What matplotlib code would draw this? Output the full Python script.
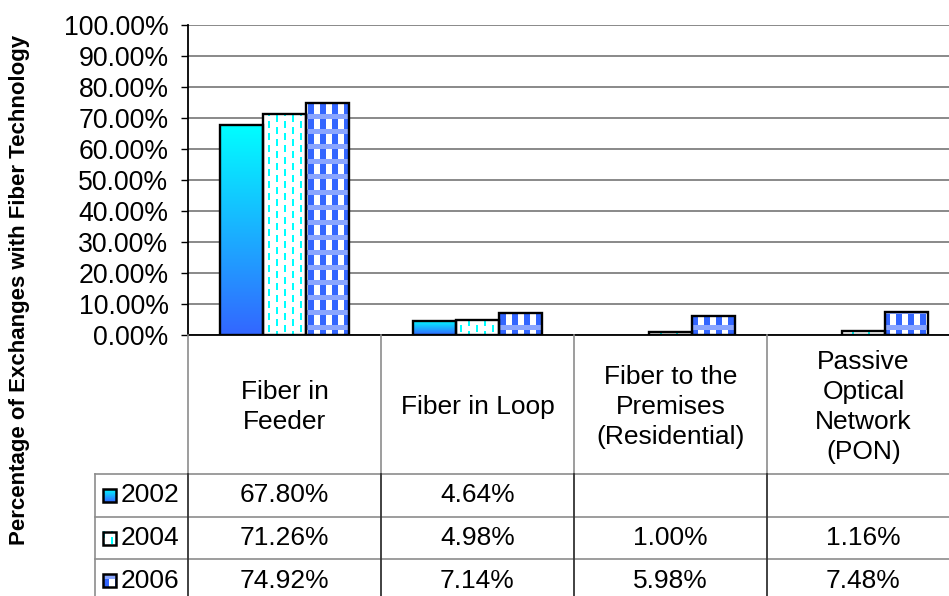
import numpy as np
import matplotlib
matplotlib.use("Agg")
import matplotlib.pyplot as plt
from matplotlib.patches import Rectangle
from matplotlib.colors import to_rgb

# ---- data ----
categories = ["Fiber in\nFeeder", "Fiber in Loop",
              "Fiber to the\nPremises\n(Residential)",
              "Passive\nOptical\nNetwork\n(PON)"]
years = ["2002", "2004", "2006"]
vals_2002 = [67.80, 4.64, None, None]
vals_2004 = [71.26, 4.98, 1.00, 1.16]
vals_2006 = [74.92, 7.14, 5.98, 7.48]
y_ticks = [0, 10, 20, 30, 40, 50, 60, 70, 80, 90, 100]
y_label = "Percentage of Exchanges with Fiber Technology"

series = [vals_2002, vals_2004, vals_2006]

plt.rcParams['font.family'] = ['Liberation Sans', 'DejaVu Sans']

W, H = 949, 596
fig = plt.figure(figsize=(W / 100, H / 100), dpi=100)

# layout in pixels
X0 = 188          # left edge of plot area
CAT_W = 193       # width of one category column
Y_TOP = 25        # pixel row of 100 %
Y_ZERO = 335      # pixel row of 0 %
TB = 602          # bottom of the data table
n = len(categories)
FS_TICK = 19.2
FS_TABLE = 19

ax = fig.add_axes([X0 / W, 1 - Y_ZERO / H, n * CAT_W / W, (Y_ZERO - Y_TOP) / H])
ax.set_xlim(0, n)
ax.set_ylim(0, 100)

CYAN = np.array(to_rgb('#00ffff'))
BLUE = np.array(to_rgb('#3366ff'))
LIGHT = np.array(to_rgb('#8aa6ff'))


def plaid(h, w):
    img = np.ones((h, w, 3))
    yy, xx = np.mgrid[0:h, 0:w]
    band = (yy % 15) < 5
    col = (xx % 12) < 6
    img[band] = LIGHT
    img[(~band) & col] = BLUE
    return img


def dashes(h, w):
    img = np.ones((h, w, 3))
    yy, xx = np.mgrid[0:h, 0:w]
    a = ((xx % 16) < 2) & ((yy % 12) < 7)
    b = (((xx - 8) % 16) < 2) & (((yy + 6) % 12) < 7)
    img[a | b] = CYAN
    return img


def gradient(nrows=256):
    t = np.linspace(0, 1, nrows)[:, None, None]
    return CYAN * (1 - t) + BLUE * t


PH, PW = Y_ZERO - Y_TOP, n * CAT_W
pattern_imgs = {1: dashes(PH, PW), 2: plaid(PH, PW)}


def fill_bar(axis, patch, kind):
    if kind == 0:
        x0, y0 = patch.get_x(), patch.get_y()
        w, h = patch.get_width(), patch.get_height()
        im = axis.imshow(gradient(), extent=(x0, x0 + w, y0, y0 + h),
                         origin='upper', aspect='auto', interpolation='bilinear',
                         zorder=3)
    else:
        im = axis.imshow(pattern_imgs[kind], extent=(0, n, 0, 100),
                         origin='upper', aspect='auto', interpolation='nearest',
                         zorder=3)
    im.set_clip_path(patch)


BW = 43 / CAT_W
for j, vals in enumerate(series):
    idx = [i for i, v in enumerate(vals) if v is not None]
    xs = [i + 0.5 + (j - 1) * BW for i in idx]
    hs = [vals[i] for i in idx]
    bars = ax.bar(xs, hs, width=BW, facecolor='white', edgecolor='none', zorder=2)
    for b in bars:
        fill_bar(ax, b, j)
    ax.bar(xs, hs, width=BW, fill=False, edgecolor='black', linewidth=1.7, zorder=4)

ax.set_yticks(y_ticks)
ax.set_yticklabels([f"{t:.2f}%" for t in y_ticks])
ax.tick_params(axis='y', direction='out', length=5, width=1.0, labelsize=FS_TICK,
               pad=9, colors='black')
ax.tick_params(axis='x', bottom=False, labelbottom=False)
ax.set_axisbelow(True)
ax.yaxis.grid(True, color='#808080', linewidth=1.3)
for s in ('top', 'right'):
    ax.spines[s].set_visible(False)
ax.spines['left'].set_linewidth(1.3)
ax.spines['bottom'].set_linewidth(1.3)
ax.set_ylim(0, 100)
ax.set_xlim(0, n)

fig.text(20 / W, 1 - 290 / H, y_label, rotation=90, fontsize=16,
         fontweight='bold', ha='center', va='center')

# ---- data table under the chart ----
tax = fig.add_axes([X0 / W, 1 - TB / H, n * CAT_W / W, (TB - Y_ZERO) / H])
tax.set_xlim(0, n)
tax.set_ylim(TB, Y_ZERO)
tax.axis('off')

xl = (95 - X0) / CAT_W
row_lines = [474, 517, 559]
row_centers = [495.5, 538, 580.5]
header_center = 407
GRAY = '#8c8c8c'
DARK = '#333333'

for y in row_lines:
    tax.plot([xl, n], [y, y], color=GRAY, lw=1.2, clip_on=False)
tax.plot([xl, xl], [row_lines[0], TB], color=GRAY, lw=1.2, clip_on=False)
for k in range(n):
    tax.plot([k, k], [Y_ZERO, row_lines[0]], color=GRAY, lw=1.2, clip_on=False)
    tax.plot([k, k], [row_lines[0], TB], color=DARK, lw=1.3, clip_on=False)

for k, c in enumerate(categories):
    tax.text(k + 0.5, header_center, c, ha='center', va='center',
             fontsize=FS_TABLE, linespacing=1.32, clip_on=False)

for j, (yr, vals) in enumerate(zip(years, series)):
    yc = row_centers[j]
    for k, v in enumerate(vals):
        if v is not None:
            tax.text(k + 0.5, yc, f"{v:.2f}%", ha='center', va='center',
                     fontsize=FS_TABLE, clip_on=False)
    # legend key
    sx0, sx1 = (103 - X0) / CAT_W, (116 - X0) / CAT_W
    sy0, sy1 = yc - 6.5, yc + 6.5
    key = Rectangle((sx0, sy0), sx1 - sx0, sy1 - sy0, facecolor='white',
                    edgecolor='none', zorder=2, clip_on=False)
    tax.add_patch(key)
    if j == 0:
        im = tax.imshow(gradient(), extent=(sx0, sx1, sy1, sy0), origin='upper',
                        aspect='auto', interpolation='bilinear', zorder=3)
    else:
        src = dashes(13, 13) if j == 1 else plaid(13, 13)
        im = tax.imshow(src, extent=(sx0, sx1, sy1, sy0), origin='upper',
                        aspect='auto', interpolation='nearest', zorder=3)
    im.set_clip_on(False)
    tax.add_patch(Rectangle((sx0, sy0), sx1 - sx0, sy1 - sy0, fill=False,
                            edgecolor='black', lw=1.8, zorder=4, clip_on=False))
    tax.text((121 - X0) / CAT_W, yc, yr, ha='left', va='center',
             fontsize=FS_TABLE, clip_on=False)

tax.set_xlim(0, n)
tax.set_ylim(TB, Y_ZERO)

fig.savefig("out.png", dpi=100)
